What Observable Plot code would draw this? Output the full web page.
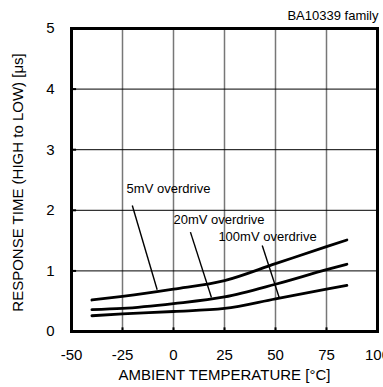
<!DOCTYPE html>
<html>
<head>
<meta charset="utf-8">
<script src="https://cdn.jsdelivr.net/npm/d3@7"></script>
<script src="https://cdn.jsdelivr.net/npm/@observablehq/plot@0.6"></script>
<style>
  html, body { margin: 0; padding: 0; background: #fff; }
</style>
</head>
<body>
<div id="chart"></div>
<script>
const temps = [-40, -25, 0, 25, 50, 75, 85];
const mv5 = [0.52, 0.58, 0.70, 0.84, 1.12, 1.40, 1.51];
const mv20 = [0.36, 0.38, 0.46, 0.57, 0.78, 1.02, 1.11];
const mv100 = [0.26, 0.29, 0.33, 0.38, 0.54, 0.70, 0.76];
const seriesNames = ["5mV overdrive", "20mV overdrive", "100mV overdrive"];
const xTicks = [-50, -25, 0, 25, 50, 75, 100];
const yTicks = [0, 1, 2, 3, 4, 5];
const labelX = [-23, 0, 22];
const labelY = [2.36, 1.85, 1.56];
const leaderX1 = [-20.2, 8.3, 43.5];
const leaderY1 = [2.08, 1.64, 1.42];
const leaderX2 = [-8.0, 18.6, 52.0];
const leaderY2 = [0.69, 0.56, 0.54];
const xTitle = "AMBIENT TEMPERATURE [°C]";
const yTitle = "RESPONSE TIME (HIGH to LOW) [μs]";
const corner = "BA10339 family";

const values = [mv5, mv20, mv100];
const rows = values.flatMap((arr, i) => arr.map((v, j) => ({series: seriesNames[i], t: temps[j], v})));
const leaders = seriesNames.map((s, i) => ({s, x1: leaderX1[i], y1: leaderY1[i], x2: leaderX2[i], y2: leaderY2[i]}));
const labels = seriesNames.map((s, i) => ({s, x: labelX[i], y: labelY[i]}));

const chart = Plot.plot({
  width: 383,
  height: 387,
  marginLeft: 71,
  marginRight: 6,
  marginTop: 28,
  marginBottom: 56,
  style: {fontFamily: "'Liberation Sans', Arial, sans-serif", fontSize: "15px", background: "#fff", color: "#000"},
  x: {domain: [-50, 100]},
  y: {domain: [0, 5]},
  marks: [
    Plot.ruleX(xTicks.slice(1, -1), {stroke: "#777", strokeWidth: 1.5}),
    Plot.ruleY(yTicks.slice(1, -1), {stroke: "#000", strokeWidth: 1}),
    Plot.ruleX(xTicks.slice(1, -1), {y1: 0, y2: 0.06, stroke: "#000", strokeWidth: 2}),
    Plot.ruleY(yTicks.slice(1, -1), {x1: -50, x2: -47.5, stroke: "#000", strokeWidth: 2}),
    Plot.axisX({ticks: xTicks, tickSize: 0, tickPadding: 18, label: null, fontSize: 15, tickFormat: d => String(d)}),
    Plot.axisY({ticks: yTicks, tickSize: 0, tickPadding: 17, label: null, fontSize: 15, tickFormat: d => String(d)}),
    Plot.line(rows, {x: "t", y: "v", z: "series", stroke: "#000", strokeWidth: 2.8, curve: "monotone-x"}),
    Plot.link(leaders, {x1: "x1", y1: "y1", x2: "x2", y2: "y2", stroke: "#000", strokeWidth: 1.4}),
    Plot.text(labels, {x: "x", y: "y", text: "s", textAnchor: "start", lineAnchor: "middle", fontSize: 13, fill: "#000"}),
    Plot.frame({stroke: "#000", strokeWidth: 3}),
    Plot.text([xTitle], {frameAnchor: "bottom", dy: 44, textAnchor: "middle", lineAnchor: "middle", fontSize: 15, fill: "#000"}),
    Plot.text([yTitle], {frameAnchor: "left", dx: -53, dy: 2.5, rotate: -90, textAnchor: "middle", lineAnchor: "middle", fontSize: 15, fill: "#000"}),
    Plot.text([corner], {frameAnchor: "top-right", dy: -12.5, dx: 1, textAnchor: "end", lineAnchor: "middle", fontSize: 13, fill: "#000"})
  ]
});
document.getElementById("chart").appendChild(chart);
</script>
</body>
</html>
